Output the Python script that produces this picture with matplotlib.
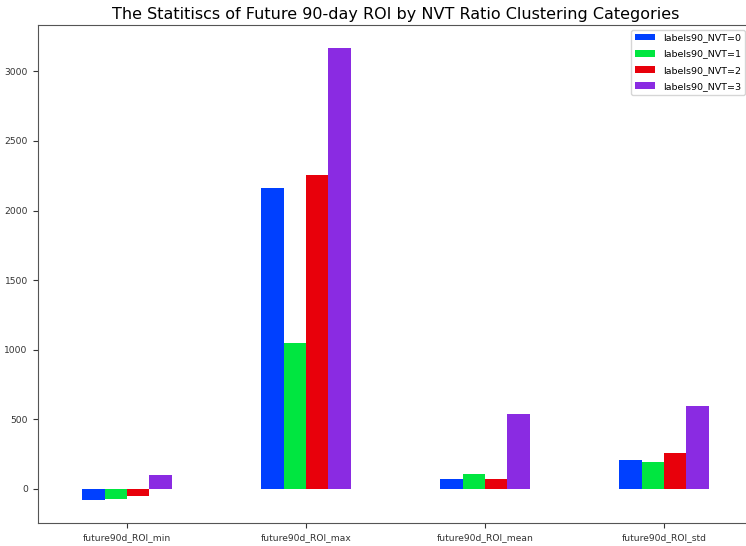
#!/usr/bin/env python3
"""
90天ROI统计 - 按NVT聚类分组
"""
import pandas as pd
import matplotlib
matplotlib.use('Agg')
import matplotlib.pyplot as plt

# ============== 数据 ==============
stats = ['future90d_ROI_min', 'future90d_ROI_max', 'future90d_ROI_mean', 'future90d_ROI_std']
labels = ['labels90_NVT=0', 'labels90_NVT=1', 'labels90_NVT=2', 'labels90_NVT=3']

nvt0 = [-84, 2164, 70, 206]
nvt1 = [-74, 1045, 108, 194]
nvt2 = [-50, 2252, 70, 259]
nvt3 = [101, 3171, 537, 595]

colors = ['#0040ff', '#00e640', '#e8000b', '#8a2be2']

df = pd.DataFrame({labels[0]: nvt0, labels[1]: nvt1, labels[2]: nvt2, labels[3]: nvt3}, index=stats)

# ============== 绘图 ==============
fig = plt.figure(figsize=(7.46, 5.46), dpi=100)
ax = fig.add_axes([37.5 / 746, 1 - 523 / 546, 716 / 746, 498 / 546])

df.plot.bar(ax=ax, color=colors, rot=0, width=0.5)

ax.set_title('The Statitiscs of Future 90-day ROI by NVT Ratio Clustering Categories', fontsize=11.5, pad=4)
ax.tick_params(labelsize=6.6, colors='#333333')
ax.legend(loc='upper right', fontsize=6.8, bbox_to_anchor=(0.9945, 1.0), handlelength=2.2,
          labelspacing=0.75)
for s in ax.spines.values():
    s.set_color('#555555')

plt.savefig('out.png', dpi=100)
plt.close()
